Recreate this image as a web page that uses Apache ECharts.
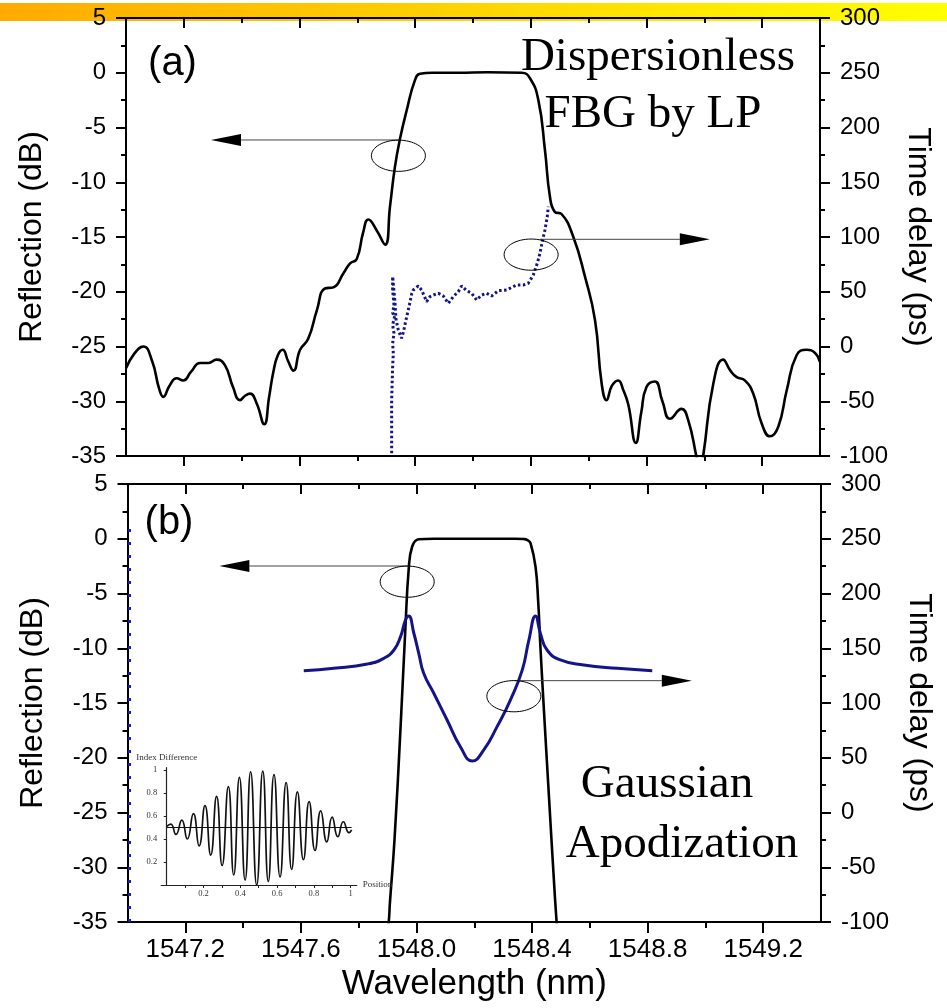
<!DOCTYPE html>
<html>
<head>
<meta charset="utf-8">
<title>FBG reflection and time delay</title>
<script src="https://cdn.jsdelivr.net/npm/echarts@6/dist/echarts.min.js"></script>
<style>
  html, body { margin: 0; padding: 0; background: #fff; }
  #chart { width: 947px; height: 1008px; }
</style>
</head>
<body>
<div id="chart"></div>
<script>
// ---- tick labels ----
const wlMajor = [1547.2, 1547.6, 1548.0, 1548.4, 1548.8, 1549.2];
const wlMinor = [1547.4, 1547.8, 1548.2, 1548.6, 1549.0];
const insetPosTicks = [0.1, 0.2, 0.3, 0.4, 0.5, 0.6, 0.7, 0.8, 0.9, 1.0];
const insetPosLabels = [0.2, 0.4, 0.6, 0.8, 1];
const insetValLabels = [0.2, 0.4, 0.6, 0.8, 1];

// ---- (a) dispersionless FBG by LP: reflection (dB) ----
const aReflWl = [1547.000, 1547.030, 1547.060, 1547.090, 1547.115, 1547.129, 1547.150, 1547.175, 1547.198, 1547.225,
  1547.256, 1547.285, 1547.313, 1547.342, 1547.370, 1547.394, 1547.412, 1547.429, 1547.452, 1547.478,
  1547.495, 1547.509, 1547.525, 1547.542, 1547.560, 1547.579, 1547.602, 1547.630, 1547.660, 1547.688,
  1547.717, 1547.752, 1547.775, 1547.798, 1547.820, 1547.838, 1547.867, 1547.896, 1547.913, 1547.930,
  1547.947, 1547.971, 1547.999, 1548.017, 1548.060, 1548.150, 1548.250, 1548.368, 1548.397, 1548.426,
  1548.449, 1548.466, 1548.483, 1548.506, 1548.547, 1548.587, 1548.622, 1548.645, 1548.662, 1548.680,
  1548.702, 1548.720, 1548.737, 1548.763, 1548.782, 1548.800, 1548.829, 1548.855, 1548.881, 1548.921,
  1548.944, 1548.973, 1548.984, 1548.996, 1549.031, 1549.065, 1549.090, 1549.112, 1549.140, 1549.169,
  1549.198, 1549.227, 1549.256, 1549.285, 1549.319, 1549.354, 1549.383, 1549.400];
const aRefl = [-27.0, -25.6, -25.0, -26.3, -28.9, -29.6, -28.6, -27.9, -28.1, -27.3,
  -26.5, -26.5, -26.2, -26.7, -28.7, -29.9, -29.5, -29.3, -30.2, -32.1,
  -29.6, -27.4, -25.8, -25.3, -26.3, -27.2, -25.3, -24.3, -21.7, -19.7,
  -19.6, -18.3, -17.4, -17.0, -14.6, -13.4, -14.4, -15.7, -12.2, -8.6,
  -6.1, -3.4, -0.7, -0.1, 0.0, 0.0, 0.05, 0.0, -0.5, -2.5,
  -7.1, -11.3, -12.7, -12.9, -15.0, -18.6, -22.6, -28.4, -29.9, -28.6,
  -28.1, -29.0, -30.3, -33.8, -31.0, -28.7, -28.2, -30.0, -31.6, -30.7,
  -31.7, -35.1, -36.5, -35.0, -28.4, -26.2, -27.2, -27.8, -28.1, -29.3,
  -32.0, -33.2, -32.3, -29.0, -25.8, -25.3, -25.6, -26.4];

// ---- (a) time delay (ps) ----
const aDelayWl = [1547.9187, 1547.9187, 1547.9187, 1547.9221, 1547.9245, 1547.9221, 1547.9267, 1547.9221, 1547.9300, 1547.9221,
  1547.9267, 1547.9221, 1547.9221, 1547.9300, 1547.9336, 1547.9416, 1547.9530, 1547.9600, 1547.9680, 1547.9800,
  1547.9880, 1547.9936, 1548.0108, 1548.0224, 1548.0397, 1548.0512, 1548.0627, 1548.0800, 1548.0973, 1548.1146,
  1548.1318, 1548.1491, 1548.1607, 1548.1780, 1548.1953, 1548.2125, 1548.2298, 1548.2471, 1548.2644, 1548.2875,
  1548.3163, 1548.3509, 1548.3739, 1548.3912, 1548.4085, 1548.4223, 1548.4315, 1548.4408, 1548.4488, 1548.4569,
  1548.4604];
const aDelay = [-97.5, -79.3, -48.8, -18.4, -6.2, 2.9, 12.1, 19.7, 28.8, 30.3,
  37.9, 51.6, 63.8, 40.9, 25.0, 15.1, 7.5, 14.0, 24.0, 38.0,
  48.0, 51.6, 55.3, 51.6, 41.0, 45.5, 47.0, 48.6, 46.1, 39.4,
  45.5, 50.1, 55.3, 51.0, 48.6, 42.5, 47.0, 48.6, 46.1, 51.0,
  51.6, 56.2, 56.2, 57.7, 65.3, 76.0, 85.1, 97.3, 106.4, 118.6,
  127.7];

// ---- (b) Gaussian apodization: reflection (dB) ----
const bReflWl = [1547.895, 1547.904, 1547.908, 1547.924, 1547.945, 1547.962, 1547.973, 1547.985, 1548.008, 1548.060,
  1548.200, 1548.340, 1548.371, 1548.384, 1548.395, 1548.412, 1548.421, 1548.429, 1548.441, 1548.458,
  1548.475, 1548.485, 1548.490];
const bRefl = [-36.5, -35.0, -33.3, -27.5, -17.2, -8.0, -2.85, -0.73, -0.05, 0.0,
  0.0, 0.0, -0.03, -0.12, -0.42, -2.55, -5.6, -9.9, -15.6, -23.3,
  -30.9, -35.0, -36.5];

// ---- (b) time delay (ps) ----
const bDelayWl = [1547.610, 1547.714, 1547.830, 1547.887, 1547.922, 1547.945, 1547.962, 1547.973, 1547.991, 1548.008,
  1548.025, 1548.060, 1548.106, 1548.152, 1548.193, 1548.233, 1548.279, 1548.325, 1548.366, 1548.389,
  1548.412, 1548.429, 1548.452, 1548.498, 1548.579, 1548.695, 1548.816];
const bDelay = [129.5, 131.7, 135.6, 140.8, 148.4, 160.6, 175.8, 179.5, 163.7, 145.4,
  127.1, 108.9, 84.5, 60.1, 47.0, 57.1, 78.4, 102.7, 130.0, 157.5,
  179.5, 163.6, 148.4, 139.3, 134.7, 131.7, 129.5];
const bEdgeWl = [1547.007, 1547.007];
const bEdgeDelay = [-100, 266];

// ---- inset: index difference along the grating ----
const insetPos = [0.000, 0.022, 0.050, 0.082, 0.112, 0.145, 0.176, 0.208, 0.239, 0.271,
  0.301, 0.335, 0.364, 0.395, 0.426, 0.456, 0.489, 0.522, 0.552, 0.583,
  0.616, 0.649, 0.679, 0.710, 0.743, 0.774, 0.806, 0.837, 0.870, 0.899,
  0.930, 0.960, 0.991, 1.005];
const insetVal = [0.51, 0.53, 0.44, 0.565, 0.40, 0.62, 0.34, 0.69, 0.26, 0.77,
  0.17, 0.855, 0.087, 0.936, 0.043, 0.985, 0.0, 0.99, 0.03, 0.96,
  0.07, 0.89, 0.135, 0.81, 0.22, 0.725, 0.30, 0.645, 0.375, 0.59,
  0.42, 0.55, 0.455, 0.48];
const insetMidPos = [0, 1.005];
const insetMidVal = [0.5, 0.5];

// arrows and rings pointing each curve to its axis: [x, y] in data units
const callouts = [
  { xi: 0, yi: 0, from: [1547.947, -6.14], to: [1547.294, -6.14], ring: [1547.942, -7.58] },
  { xi: 0, yi: 1, from: [1548.432, 97.9], to: [1549.019, 97.9], ring: [1548.401, 83.9] },
  { xi: 4, yi: 2, from: [1547.972, -2.49], to: [1547.318, -2.49], ring: [1547.968, -3.92] },
  { xi: 4, yi: 3, from: [1548.341, 120.4], to: [1548.953, 120.4], ring: [1548.337, 106.2] }
];

const SANS = '"Liberation Sans", Arial, Helvetica, sans-serif';
const SERIF = '"Liberation Serif", "Times New Roman", Times, serif';
const pairs = (xs, ys) => xs.map((x, i) => [x, ys[i]]);

const axisLineStyle = { color: '#000', width: 2 };

function wlAxis(grid, position, ticks, len, inside, withLine, withLabels) {
  return {
    type: 'value', gridIndex: grid, position: position,
    min: 1547.0, max: 1549.4,
    axisLine: { show: withLine, onZero: false, lineStyle: axisLineStyle },
    axisTick: { show: true, inside: inside, length: len, customValues: ticks, lineStyle: axisLineStyle },
    axisLabel: withLabels ? {
      show: true, customValues: ticks, margin: 15, color: '#000',
      fontFamily: SANS, fontSize: 26, formatter: v => Number(v).toFixed(1)
    } : { show: false },
    splitLine: { show: false },
    name: withLabels ? 'Wavelength (nm)' : '',
    nameLocation: 'middle', nameGap: 45,
    nameTextStyle: { color: '#000', fontFamily: SANS, fontSize: 35 }
  };
}

function valAxis(grid, position, min, max, interval, name) {
  const left = position === 'left';
  return {
    type: 'value', gridIndex: grid, position: position,
    min: min, max: max, interval: interval,
    axisLine: { show: true, onZero: false, lineStyle: axisLineStyle },
    axisTick: { show: true, length: 10, lineStyle: axisLineStyle },
    minorTick: { show: true, splitNumber: 2, length: 5, lineStyle: axisLineStyle },
    splitLine: { show: false }, minorSplitLine: { show: false },
    axisLabel: { show: true, margin: 20, color: '#000', fontFamily: SANS, fontSize: 24 },
    name: name, nameLocation: 'middle', nameGap: left ? 78 : 82, nameRotate: left ? 90 : -90,
    nameTextStyle: { color: '#000', fontFamily: SANS, fontSize: 32 }
  };
}

const xAxes = [
  wlAxis(0, 'bottom', wlMajor, 10, false, true, false),   // 0
  wlAxis(0, 'bottom', wlMinor, 5, false, false, false),   // 1
  wlAxis(0, 'top', wlMajor, 10, true, true, false),       // 2
  wlAxis(0, 'top', wlMinor, 5, true, false, false),       // 3
  wlAxis(1, 'bottom', wlMajor, 11, false, true, true),    // 4
  wlAxis(1, 'bottom', wlMinor, 6, false, false, false),   // 5
  wlAxis(1, 'top', wlMajor, 10, true, true, false),       // 6
  wlAxis(1, 'top', wlMinor, 5, true, false, false),       // 7
  {                                                       // 8: inset
    type: 'value', gridIndex: 2, min: -0.03, max: 1.033, z: 6,
    axisLine: { show: true, onZero: true, lineStyle: { color: '#222', width: 1.2 } },
    axisTick: { show: true, length: 3, customValues: insetPosTicks, lineStyle: { color: '#222', width: 1 } },
    axisLabel: { show: true, customValues: insetPosLabels, margin: 4, color: '#333',
      fontFamily: SERIF, fontSize: 8.5, formatter: v => String(+Number(v).toFixed(1)) },
    splitLine: { show: false },
    name: 'Position', nameLocation: 'end', nameGap: 6,
    nameTextStyle: { color: '#333', fontFamily: SERIF, fontSize: 9, verticalAlign: 'middle' }
  }
];

const yAxes = [
  valAxis(0, 'left', -35, 5, 5, 'Reflection (dB)'),       // 0
  valAxis(0, 'right', -100, 300, 50, 'Time delay (ps)'),  // 1
  valAxis(1, 'left', -35, 5, 5, 'Reflection (dB)'),       // 2
  valAxis(1, 'right', -100, 300, 50, 'Time delay (ps)'),  // 3
  {                                                       // 4: inset
    type: 'value', gridIndex: 2, min: 0, max: 1.02, z: 6,
    axisLine: { show: true, onZero: true, lineStyle: { color: '#222', width: 1.2 } },
    axisTick: { show: true, length: 3, customValues: insetValLabels, lineStyle: { color: '#222', width: 1 } },
    axisLabel: { show: true, customValues: insetValLabels, margin: 4, color: '#333',
      fontFamily: SERIF, fontSize: 8.5, formatter: v => String(+Number(v).toFixed(1)) },
    splitLine: { show: false },
    name: 'Index Difference', nameLocation: 'end', nameGap: 6,
    nameTextStyle: { color: '#333', fontFamily: SERIF, fontSize: 9 }
  }
];

const black = { color: '#000', width: 2.6 };
const navy = '#14148a';

const option = {
  animation: false,
  backgroundColor: '#fff',
  grid: [
    { left: 126, top: 18, width: 694, height: 438 },
    { left: 127.5, top: 484, width: 693.5, height: 438 },
    { left: 161.2, top: 767.7, width: 195.6, height: 117.3 }
  ],
  xAxis: xAxes,
  yAxis: yAxes,
  series: [
    { type: 'line', name: 'aRefl', xAxisIndex: 0, yAxisIndex: 0, data: pairs(aReflWl, aRefl),
      symbol: 'none', smooth: 0.5, lineStyle: black, silent: true },
    { type: 'line', name: 'aDelay', xAxisIndex: 0, yAxisIndex: 1, data: pairs(aDelayWl, aDelay),
      symbol: 'none', smooth: false, lineStyle: { color: navy, width: 3, type: [2.5, 2.5] }, silent: true },
    { type: 'line', name: 'bRefl', xAxisIndex: 4, yAxisIndex: 2, data: pairs(bReflWl, bRefl),
      symbol: 'none', smooth: 0.45, lineStyle: black, silent: true },
    { type: 'line', name: 'bDelay', xAxisIndex: 4, yAxisIndex: 3, data: pairs(bDelayWl, bDelay),
      symbol: 'none', smooth: 0.5, lineStyle: { color: navy, width: 3 }, silent: true },
    { type: 'line', name: 'bEdge', xAxisIndex: 4, yAxisIndex: 3, data: pairs(bEdgeWl, bEdgeDelay),
      symbol: 'none', lineStyle: { color: '#1c1cb4', width: 3, type: [3, 10] }, silent: true },
    { type: 'line', name: 'insetMid', xAxisIndex: 8, yAxisIndex: 4, data: pairs(insetMidPos, insetMidVal),
      symbol: 'none', z: 5, lineStyle: { color: '#111', width: 1.2 }, silent: true },
    { type: 'line', name: 'inset', xAxisIndex: 8, yAxisIndex: 4, data: pairs(insetPos, insetVal),
      symbol: 'none', smooth: 0.55, z: 5, clip: false, lineStyle: { color: '#111', width: 1.7 }, silent: true }
  ]
};

const chart = echarts.init(document.getElementById('chart'), null, { renderer: 'canvas' });
chart.setOption(option);

// overlays: header band, inset backing, callouts and panel captions
const gfx = [
  { type: 'rect', silent: true, z: -10, shape: { x: 0, y: 3, width: 947, height: 18 },
    style: { fill: { type: 'linear', x: 0, y: 0, x2: 1, y2: 0,
      colorStops: [{ offset: 0, color: '#FFAA00' }, { offset: 0.5, color: '#FFD400' }, { offset: 1, color: '#FFFF00' }] } } },
  { type: 'rect', silent: true, z: 3, shape: { x: 133, y: 745, width: 260, height: 158 }, style: { fill: '#fff' } }
];

callouts.forEach(c => {
  const px = v => chart.convertToPixel({ xAxisIndex: c.xi }, v);
  const py = v => chart.convertToPixel({ yAxisIndex: c.yi }, v);
  const x0 = px(c.from[0]), y0 = py(c.from[1]);
  const x1 = px(c.to[0]), y1 = py(c.to[1]);
  const dir = x1 > x0 ? 1 : -1;
  const base = x1 - dir * 30;
  gfx.push({ type: 'line', silent: true, z: 10, shape: { x1: x0, y1: y0, x2: base, y2: y1 },
    style: { stroke: '#444', lineWidth: 1 } });
  gfx.push({ type: 'polygon', silent: true, z: 10, shape: { points: [[x1, y1], [base, y1 - 6], [base, y1 + 6]] },
    style: { fill: '#000' } });
  gfx.push({ type: 'ellipse', silent: true, z: 10,
    shape: { cx: px(c.ring[0]), cy: py(c.ring[1]), rx: 27, ry: 15.6 },
    style: { fill: 'none', stroke: '#000', lineWidth: 1 } });
});

const caption = (text, x, y, font) => ({
  type: 'text', silent: true, z: 10, x: x, y: y,
  style: { text: text, font: font, fill: '#000', align: 'center', verticalAlign: 'middle' }
});
gfx.push(caption('(a)', 172.5, 64, '40px ' + SANS));
gfx.push(caption('(b)', 169, 523, '40px ' + SANS));
gfx.push(caption('Dispersionless', 658, 58, '47px ' + SERIF));
gfx.push(caption('FBG by LP', 653, 115, '47px ' + SERIF));
gfx.push(caption('Gaussian', 667, 785, '47px ' + SERIF));
gfx.push(caption('Apodization', 682, 845, '47px ' + SERIF));

chart.setOption({ graphic: gfx });
</script>
</body>
</html>
